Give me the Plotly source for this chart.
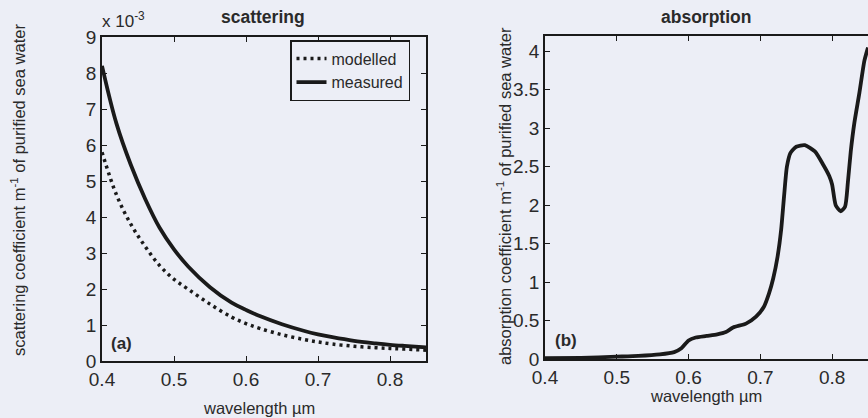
import plotly.graph_objects as go

# ---- data ----
scat_wl = [0.40, 0.42, 0.44, 0.46, 0.48, 0.50, 0.52, 0.55, 0.58, 0.60,
           0.62, 0.65, 0.68, 0.70, 0.72, 0.75, 0.78, 0.80, 0.82, 0.85]
scat_measured = [8.20, 6.60, 5.45, 4.50, 3.70, 3.10, 2.62, 2.05, 1.62, 1.42,
                 1.24, 1.02, 0.84, 0.74, 0.66, 0.56, 0.49, 0.45, 0.42, 0.38]
scat_modelled = [5.80, 4.62, 3.80, 3.18, 2.65, 2.27, 1.99, 1.58, 1.22, 1.04,
                 0.90, 0.73, 0.60, 0.53, 0.47, 0.41, 0.37, 0.35, 0.33, 0.30]

abs_wl = [0.40, 0.45, 0.50, 0.53, 0.56, 0.58, 0.59, 0.60, 0.61, 0.625,
          0.64, 0.652, 0.662, 0.68, 0.694, 0.705, 0.712, 0.718, 0.724, 0.729,
          0.733, 0.737, 0.742, 0.75, 0.762, 0.776, 0.788, 0.796, 0.80, 0.805,
          0.812, 0.818, 0.822, 0.826, 0.831, 0.838, 0.845, 0.85]
abs_val = [0.01, 0.015, 0.03, 0.04, 0.06, 0.09, 0.14, 0.24, 0.28, 0.30,
           0.32, 0.35, 0.41, 0.46, 0.55, 0.68, 0.85, 1.05, 1.33, 1.68,
           2.11, 2.50, 2.68, 2.76, 2.78, 2.70, 2.52, 2.38, 2.27, 2.00,
           1.92, 1.98, 2.30, 2.70, 3.07, 3.46, 3.88, 4.05]

x_ticks = [0.4, 0.5, 0.6, 0.7, 0.8]
scat_yticks = [0, 1, 2, 3, 4, 5, 6, 7, 8, 9]
abs_yticks = [0, 0.5, 1, 1.5, 2, 2.5, 3, 3.5, 4]

W, H = 868, 418
BG = "#eceef6"
FONT = "Liberation Sans, Arial, Helvetica, sans-serif"
INK = "#1a1a1a"
TXT = "#2a2a2a"

fig = go.Figure()
fig.add_trace(go.Scatter(x=scat_wl, y=scat_modelled, name="modelled", mode="lines",
                         line=dict(color=INK, width=3.5, dash="3px,4px", shape="spline"),
                         xaxis="x", yaxis="y"))
fig.add_trace(go.Scatter(x=scat_wl, y=scat_measured, name="measured", mode="lines",
                         line=dict(color=INK, width=3.8, shape="spline"),
                         xaxis="x", yaxis="y"))
fig.add_trace(go.Scatter(x=abs_wl, y=abs_val, name="absorption", mode="lines",
                         line=dict(color=INK, width=3.8, shape="spline", smoothing=0.6),
                         showlegend=False, xaxis="x2", yaxis="y2"))

def px_x(p):
    return p / W

def px_y(p):
    return 1 - p / H

def axis(mirror="ticks"):
    return dict(showline=True, linecolor=INK, linewidth=1.5, mirror=mirror,
                ticks="inside", ticklen=5, tickwidth=1.2, tickcolor=INK,
                showgrid=False, zeroline=False, automargin=False,
                tickfont=dict(family=FONT, size=19, color=TXT))

fig.update_layout(
    width=W, height=H,
    margin=dict(l=0, r=0, t=0, b=0, autoexpand=False),
    paper_bgcolor=BG, plot_bgcolor=BG,
    font=dict(family=FONT, color=INK),
    xaxis=dict(domain=[px_x(102), px_x(426)], range=[0.4, 0.85], tickvals=x_ticks,
               anchor="y", **axis()),
    yaxis=dict(domain=[px_y(361), px_y(37)], range=[0, 9], tickvals=scat_yticks,
               anchor="x", **axis()),
    xaxis2=dict(domain=[px_x(545), 1.0], range=[0.4, 0.85], tickvals=x_ticks,
                anchor="y2", **axis()),
    yaxis2=dict(domain=[px_y(359), px_y(36)], range=[0, 4.2], tickvals=abs_yticks,
                anchor="x2", **axis(mirror=False)),
    legend=dict(x=px_x(290), y=px_y(40), xanchor="left", yanchor="top",
                bgcolor=BG, bordercolor=INK, borderwidth=1.5,
                font=dict(family=FONT, size=16, color=TXT),
                tracegroupgap=0, itemwidth=30),
    showlegend=True,
)

ann = [
    dict(text="<b>scattering</b>", x=px_x(263), y=px_y(17), size=17.5),
    dict(text="<b>absorption</b>", x=px_x(706), y=px_y(17), size=17.5),
    dict(text="x 10<sup>-3</sup>", x=px_x(123), y=px_y(20), size=17),
    dict(text="wavelength µm", x=px_x(259), y=px_y(408), size=16.5),
    dict(text="wavelength µm", x=px_x(706), y=px_y(396), size=16.5),
    dict(text="<b>(a)</b>", x=px_x(121), y=px_y(343), size=17),
    dict(text="<b>(b)</b>", x=px_x(566), y=px_y(340), size=17),
]
for a in ann:
    fig.add_annotation(text=a["text"], x=a["x"], y=a["y"], xref="paper", yref="paper",
                       xanchor="center", yanchor="middle", showarrow=False,
                       font=dict(family=FONT, size=a["size"], color=TXT))

fig.add_annotation(text="scattering coefficient m<sup>-1</sup> of purified sea water",
                   x=px_x(18), y=px_y(190), xref="paper", yref="paper", textangle=-90,
                   xanchor="center", yanchor="middle", showarrow=False,
                   font=dict(family=FONT, size=16.5, color=TXT))
fig.add_annotation(text="absorption coefficient m<sup>-1</sup> of purified sea water",
                   x=px_x(504), y=px_y(196), xref="paper", yref="paper", textangle=-90,
                   xanchor="center", yanchor="middle", showarrow=False,
                   font=dict(family=FONT, size=16.5, color=TXT))

fig.write_html("out.html")
